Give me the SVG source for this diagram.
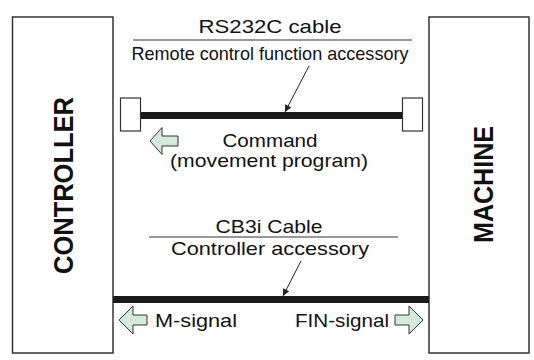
<svg xmlns="http://www.w3.org/2000/svg" width="534" height="360" viewBox="0 0 534 360">
<style>
.box{fill:#fff;stroke:#333;stroke-width:1.5}
.conn{fill:#fff;stroke:#333;stroke-width:1.2}
.bar{fill:#1a1a1a}
.rule{stroke:#333;stroke-width:1}
.lead{stroke:#222;stroke-width:1;fill:none}
.garrow{fill:#d3eadb;stroke:#333;stroke-width:1;stroke-linejoin:miter}
.t{font-family:"Liberation Sans",Arial,sans-serif;font-size:18.5px;fill:#111;text-anchor:middle}
.big{font-family:"Liberation Sans",Arial,sans-serif;font-size:27px;font-weight:bold;fill:#111;text-anchor:middle}
</style>
<defs>
<marker id="ah" viewBox="0 0 10 10" refX="10" refY="5" markerWidth="8" markerHeight="7" markerUnits="userSpaceOnUse" orient="auto">
<path d="M0,0 L10,5 L0,10 z" fill="#222"/>
</marker>
</defs>
<rect width="534" height="360" fill="#fff"/>
<g id="controller">
<rect class="box" x="12.5" y="17" width="100.5" height="336"/>
<text class="big" transform="translate(73,185.5) rotate(-90)" textLength="177" lengthAdjust="spacingAndGlyphs">CONTROLLER</text>
</g>
<g id="machine">
<rect class="box" x="429" y="17" width="100" height="336"/>
<text class="big" transform="translate(493,184.5) rotate(-90)" textLength="117" lengthAdjust="spacingAndGlyphs">MACHINE</text>
</g>
<g id="rs232c-cable">
<rect class="bar" x="140" y="112" width="263" height="7"/>
<rect class="conn" x="120.5" y="98" width="20" height="33"/>
<rect class="conn" x="402.5" y="98" width="20" height="33"/>
</g>
<g id="rs232c-label">
<text class="t" x="270" y="33" textLength="143" lengthAdjust="spacingAndGlyphs">RS232C cable</text>
<line class="rule" x1="133" y1="40" x2="412" y2="40"/>
<text class="t" x="270" y="60" textLength="277" lengthAdjust="spacingAndGlyphs">Remote control function accessory</text>
</g>
<g id="command">
<path class="garrow" d="M150,141 L162,127.5 L162,136 L178,136 L178,146 L162,146 L162,154.5 Z"/>
<text class="t" x="270" y="147" textLength="95" lengthAdjust="spacingAndGlyphs">Command</text>
<text class="t" x="269" y="167" textLength="198" lengthAdjust="spacingAndGlyphs">(movement program)</text>
</g>
<g id="cb3i-cable">
<rect class="bar" x="113" y="296" width="316" height="7"/>
</g>
<g id="cb3i-label">
<text class="t" x="269" y="233" textLength="107" lengthAdjust="spacingAndGlyphs">CB3i Cable</text>
<line class="rule" x1="149" y1="237" x2="398" y2="237"/>
<text class="t" x="270" y="255" textLength="198" lengthAdjust="spacingAndGlyphs">Controller accessory</text>
</g>
<g id="m-signal">
<path class="garrow" d="M119,320 L133,306 L133,315 L147,315 L147,325 L133,325 L133,334 Z"/>
<text class="t" x="196" y="327" textLength="82" lengthAdjust="spacingAndGlyphs">M-signal</text>
</g>
<g id="fin-signal">
<path class="garrow" d="M423,320 L409,306 L409,315 L395,315 L395,325 L409,325 L409,334 Z"/>
<text class="t" x="342" y="327" textLength="94" lengthAdjust="spacingAndGlyphs">FIN-signal</text>
</g>
<g id="connectors">
<line class="lead" x1="309" y1="66" x2="285" y2="112" marker-end="url(#ah)"/>
<line class="lead" x1="301" y1="261" x2="283" y2="296" marker-end="url(#ah)"/>
</g>
</svg>
